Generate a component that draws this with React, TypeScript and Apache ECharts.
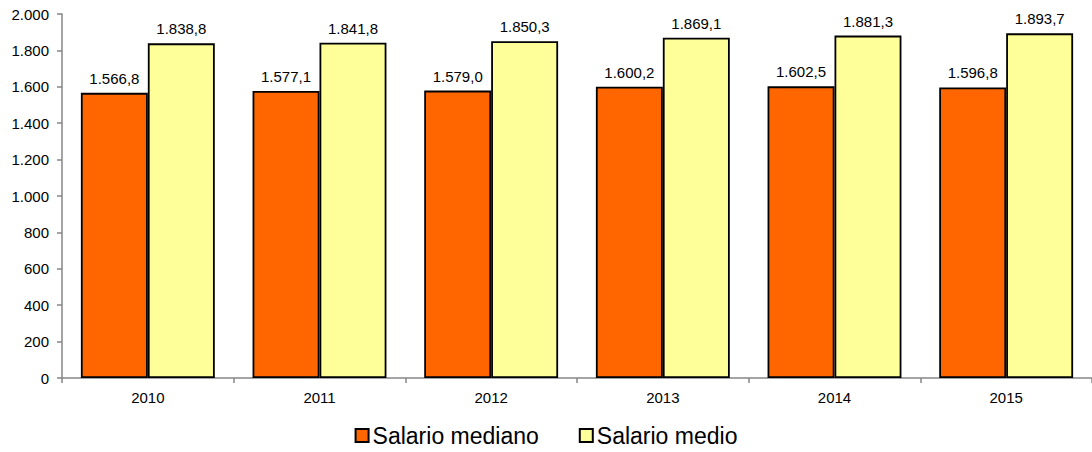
import React, { useEffect, useRef } from "react";
import * as echarts from "echarts";

const categories = ["2010", "2011", "2012", "2013", "2014", "2015"];
const seriesNames = ["Salario mediano", "Salario medio"];
const medianValues = [1566.8, 1577.1, 1579.0, 1600.2, 1602.5, 1596.8];
const meanValues = [1838.8, 1841.8, 1850.3, 1869.1, 1881.3, 1893.7];

function thousands(n: number): string {
  const s = Math.round(Math.abs(n)).toString();
  return s.replace(/\B(?=(\d{3})+(?!\d))/g, ".");
}
function fmtAxis(v: number): string {
  return thousands(v);
}
function fmtLabel(v: number): string {
  const fixed = v.toFixed(1);
  const [intPart, dec] = fixed.split(".");
  return thousands(Number(intPart)) + "," + dec;
}

const FONT = "'Liberation Sans', Arial, sans-serif";

export default function App() {
  const ref = useRef<HTMLDivElement>(null);
  useEffect(() => {
    if (!ref.current) return;
    const chart = echarts.init(ref.current, null, { renderer: "svg" });
    const labelStyle = {
      show: true,
      position: "top" as const,
      distance: 7,
      color: "#000",
      fontFamily: FONT,
      fontSize: 15,
      formatter: (p: any) => fmtLabel(p.value),
    };
    chart.setOption({
      animation: false,
      backgroundColor: "#fff",
      textStyle: { fontFamily: FONT },
      grid: { left: 62, right: -8, top: 14, bottom: 74, containLabel: false },
      legend: {
        bottom: 0,
        left: "center",
        itemWidth: 13,
        itemHeight: 13,
        itemGap: 40,
        icon: "rect",
        textStyle: { fontFamily: FONT, fontSize: 23, color: "#000", padding: [0, 0, 0, -1] },
        data: seriesNames,
      },
      xAxis: {
        type: "category",
        data: categories,
        axisLine: { lineStyle: { color: "#868686", width: 1.5 } },
        axisTick: { show: true, length: 5, lineStyle: { color: "#868686", width: 1.5 } },
        axisLabel: { color: "#000", fontFamily: FONT, fontSize: 15, margin: 12 },
      },
      yAxis: {
        type: "value",
        min: 0,
        max: 2000,
        interval: 200,
        splitLine: { show: false },
        axisLine: { show: true, lineStyle: { color: "#868686", width: 1.5 } },
        axisTick: { show: true, length: 5, lineStyle: { color: "#868686", width: 1.5 } },
        axisLabel: { color: "#000", fontFamily: FONT, fontSize: 15, margin: 13, formatter: fmtAxis },
      },
      series: [
        {
          name: seriesNames[0],
          type: "bar",
          data: medianValues,
          barGap: "0%",
          barCategoryGap: "22%",
          itemStyle: { color: "#FF6600", borderColor: "#000", borderWidth: 1.8 },
          label: labelStyle,
        },
        {
          name: seriesNames[1],
          type: "bar",
          data: meanValues,
          barGap: "0%",
          barCategoryGap: "22%",
          itemStyle: { color: "#FFFF99", borderColor: "#000", borderWidth: 1.8 },
          label: labelStyle,
        },
      ],
    });
    return () => chart.dispose();
  }, []);
  return (
    <div
      ref={ref}
      style={{ position: "fixed", left: 0, top: 0, width: 1092, height: 452, background: "#fff" }}
    />
  );
}
